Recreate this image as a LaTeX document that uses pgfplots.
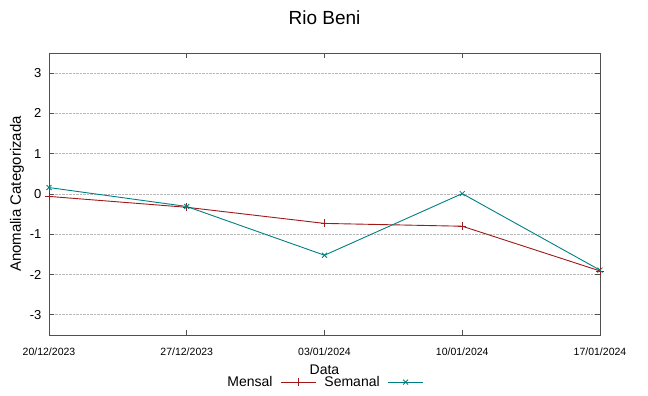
\documentclass[border=0pt]{standalone}
\usepackage{fontspec}
\setmainfont{Liberation Sans}
\usepackage{pgfplots}
\pgfplotsset{compat=1.18}
\definecolor{mred}{HTML}{A01818}
\definecolor{steal}{HTML}{008080}
\definecolor{framegray}{HTML}{505050}
\begin{document}
\begin{tikzpicture}[x=1pt,y=1pt]
\path[use as bounding box] (0,0) rectangle (648,396);
\begin{axis}[
  at={(49pt,61pt)}, anchor=south west,
  scale only axis, width=551pt, height=282pt,
  xmin=0, xmax=28, ymin=-3.5, ymax=3.5,
  xtick={0,7,14,21,28},
  xticklabels={20/12/2023,27/12/2023,03/01/2024,10/01/2024,17/01/2024},
  ytick={-3,-2,-1,0,1,2,3},
  /pgf/number format/assume math mode=true,
  xticklabel style={font=\fontsize{10.5}{12}\selectfont, yshift=-9pt},
  yticklabel style={font=\fontsize{13}{15}\selectfont, xshift=-4pt},
  ymajorgrids, grid style={densely dotted, gray!55, line width=0.8pt},
  axis line style={framegray, line width=0.9pt},
  tick style={framegray, line width=0.8pt},
  major tick length=5pt,
  tick align=inside,
  title={Rio Beni},
  title style={at={(axis description cs:0.5,1.103)}, anchor=center, font=\fontsize{19}{22}\selectfont},
  xlabel={Data},
  every axis x label/.style={at={(axis description cs:0.5,-0.122)}, anchor=center, font=\fontsize{14}{16}\selectfont},
  ylabel={Anomalia Categorizada},
  every axis y label/.style={at={(axis description cs:-0.058,0.5)}, rotate=90, anchor=center, font=\fontsize{15}{17}\selectfont},
  legend columns=2,
  legend plot pos=right,
  legend image code/.code={\draw[mark repeat=2,mark phase=2,#1] plot coordinates {(0pt,0pt) (17.5pt,0pt) (35pt,0pt)};},
  legend style={at={(axis description cs:0.5,-0.167)}, anchor=center, draw=none, fill=none,
    font=\fontsize{14}{16}\selectfont, inner sep=0pt,
    /tikz/every odd column/.append style={column sep=6pt},
    /tikz/every even column/.append style={column sep=6pt}},
]
\addplot[mred, line width=0.9pt, mark=+, mark size=4pt, mark options={line width=0.8pt}] coordinates {
  (0,-0.06) (7,-0.33) (14,-0.73) (21,-0.80) (28,-1.91)
};
\addlegendentry{Mensal}
\addplot[steal, line width=0.9pt, mark=x, mark size=3.5pt, mark options={line width=0.8pt}] coordinates {
  (0,0.16) (7,-0.31) (14,-1.52) (21,0.01) (28,-1.89)
};
\addlegendentry{Semanal}
\end{axis}
\end{tikzpicture}
\end{document}
